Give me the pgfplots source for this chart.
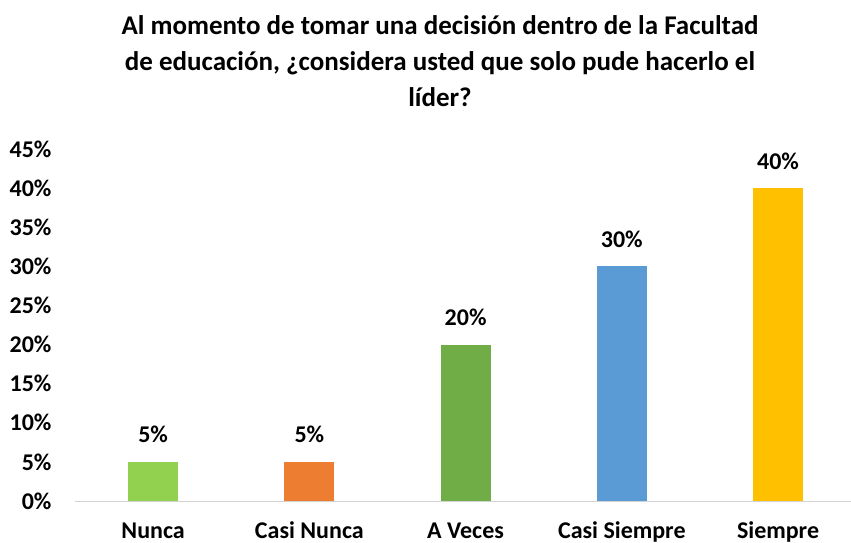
\documentclass[border=0pt]{standalone}
\usepackage{pgfplots}
\pgfplotsset{compat=1.18}
\usepackage{fontspec}
\setmainfont{Carlito}
\definecolor{cNunca}{RGB}{146,208,80}
\definecolor{cCasiNunca}{RGB}{237,125,49}
\definecolor{cAVeces}{RGB}{112,173,71}
\definecolor{cCasiSiempre}{RGB}{91,155,213}
\definecolor{cSiempre}{RGB}{255,192,0}
\begin{document}
\begin{tikzpicture}[x=1pt,y=1pt]
\useasboundingbox (0,0) rectangle (851,543);
\begin{axis}[
  at={(75pt,42pt)}, anchor=south west,
  scale only axis, width=776pt, height=352pt,
  xmin=-0.5, xmax=4.467, ymin=0, ymax=45,
  axis line style={draw=none},
  ytick={0,5,...,45},
  yticklabel={\pgfmathprintnumber{\tick}\%},
  /pgf/number format/assume math mode=true,
  yticklabel style={font=\fontsize{24}{26}\selectfont\bfseries, anchor=east, xshift=-20pt},
  xtick={0,1,2,3,4},
  xticklabels={Nunca,Casi Nunca,A Veces,Casi Siempre,Siempre},
  xticklabel style={font=\fontsize{24}{26}\selectfont\bfseries, anchor=base, yshift=-37pt},
  major tick length=0pt,
  clip=false,
  ybar, bar width=50pt, bar shift=0pt,
  nodes near coords={\pgfmathprintnumber{\pgfplotspointmeta}\%},
  nodes near coords style={font=\fontsize{24}{26}\selectfont\bfseries, black, anchor=base, yshift=19pt, inner sep=0pt},
  point meta=explicit,
]
\addplot[draw=none, fill=cNunca] coordinates {(0,5) [5]};
\addplot[draw=none, fill=cCasiNunca] coordinates {(1,5) [5]};
\addplot[draw=none, fill=cAVeces] coordinates {(2,20) [20]};
\addplot[draw=none, fill=cCasiSiempre] coordinates {(3,30) [30]};
\addplot[draw=none, fill=cSiempre] coordinates {(4,40) [40]};
\draw[gray!35, line width=1pt] (axis cs:-0.5,0) -- (axis cs:4.467,0);
\end{axis}
\node[align=center, font=\fontsize{27}{36}\selectfont\bfseries, anchor=base] at (440,436)
 {Al momento de tomar una decisión dentro de la Facultad\\de educación, ¿considera usted que solo pude hacerlo el\\líder?};
\end{tikzpicture}
\end{document}
